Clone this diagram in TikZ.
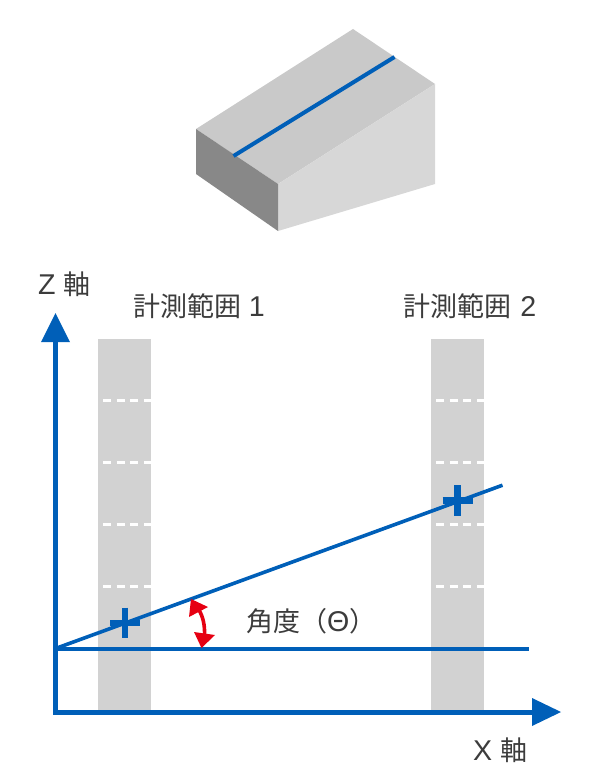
\documentclass[tikz,border=0pt]{standalone}
\usepackage{fontspec}
\setmainfont[Scale=1.06]{Liberation Sans}
\newfontfamily\jp{Noto Sans CJK JP}
\definecolor{axisblue}{HTML}{005FB8}
\definecolor{labelgrey}{HTML}{3C3C3C}
\definecolor{bandgrey}{HTML}{D2D2D2}
\definecolor{topgrey}{HTML}{C9C9C9}
\definecolor{sidegrey}{HTML}{D7D7D7}
\definecolor{frontgrey}{HTML}{888888}
\definecolor{arrowred}{HTML}{E60012}
\tikzset{
  lbl/.style={anchor=base west,inner sep=0pt,outer sep=0pt,text=labelgrey,font=\fontsize{27pt}{27pt}\selectfont},
  axisline/.style={draw=axisblue,line width=5pt},
  dataline/.style={draw=axisblue,line width=3.6pt},
  ridgeline/.style={draw=axisblue,line width=4pt},
  crossline/.style={draw=axisblue,line width=6.6pt},
  tick/.style={draw=white,line width=2.6pt,dash pattern=on 8pt off 5.6pt},
  band/.style={fill=bandgrey},
  head/.style={fill=axisblue},
  redhead/.style={fill=arrowred}
}
\begin{document}
\begin{tikzpicture}[x=1pt,y=-1pt]
\useasboundingbox (0,0) rectangle (600,770);
% prism
\fill[topgrey] (353,29) -- (435,84) -- (278,184) -- (196,129) -- cycle;
\fill[sidegrey] (435,84) -- (435,184) -- (278,231) -- (278,184) -- cycle;
\fill[frontgrey] (196,129) -- (278,184) -- (278,231) -- (196,174) -- cycle;
\coordinate (ridgeA) at (233.5,156);
\coordinate (ridgeB) at (394.5,57);
\draw[ridgeline] (ridgeA) -- (ridgeB);
% bands
\fill[band] (98,338.5) rectangle (151,712);
\fill[band] (431,338.5) rectangle (484,712);
\foreach \yy in {400.5,462.5,524.5,586.5}{
  \draw[tick] (103,\yy) -- (151,\yy);
  \draw[tick] (436,\yy) -- (484,\yy);
}
% axes
\coordinate (origin) at (55.5,712);
\coordinate (zEnd) at (55.5,340);
\coordinate (xEnd) at (534,712);
\draw[axisline,line join=miter] (zEnd) -- (origin) -- (xEnd);
\fill[head] (55.5,313) -- (70,342) -- (41,342) -- cycle;
\fill[head] (561,712) -- (532,698) -- (532,726) -- cycle;
% data lines
\coordinate (base) at (55,648.7);
\coordinate (baseEnd) at (529,648.7);
\coordinate (slopeEnd) at (502.5,485.2);
\draw[dataline] (base) -- (baseEnd);
\draw[dataline] (base) -- (slopeEnd);
% crosses
\draw[crossline] (125,607.7) -- (125,638);
\draw[crossline] (110,623) -- (140,623);
\draw[crossline] (457.7,485) -- (457.7,516);
\draw[crossline] (442.7,500.3) -- (472.7,500.3);
% angle arrow
\draw[arrowred,line width=3.6pt] (199,610) .. controls (203,617) and (205,625) .. (204.5,636);
\fill[redhead] (191,599) -- (208,607) -- (189,617) -- cycle;
\fill[redhead] (201.5,648) -- (194,632) -- (215,635) -- cycle;
% labels
\node[lbl] (zlabel) at (38,294) {Z {\jp 軸}};
\node[lbl] (xlabel) at (473,760) {X {\jp 軸}};
\node[lbl] (range1) at (133,316) {{\jp 計測範囲} 1};
\node[lbl] (range2) at (403,316) {{\jp 計測範囲}\kern1.5pt{} 2};
\node[lbl] (angle) at (246,631) {{\jp 角度（}Θ{\jp ）}};
\end{tikzpicture}
\end{document}
